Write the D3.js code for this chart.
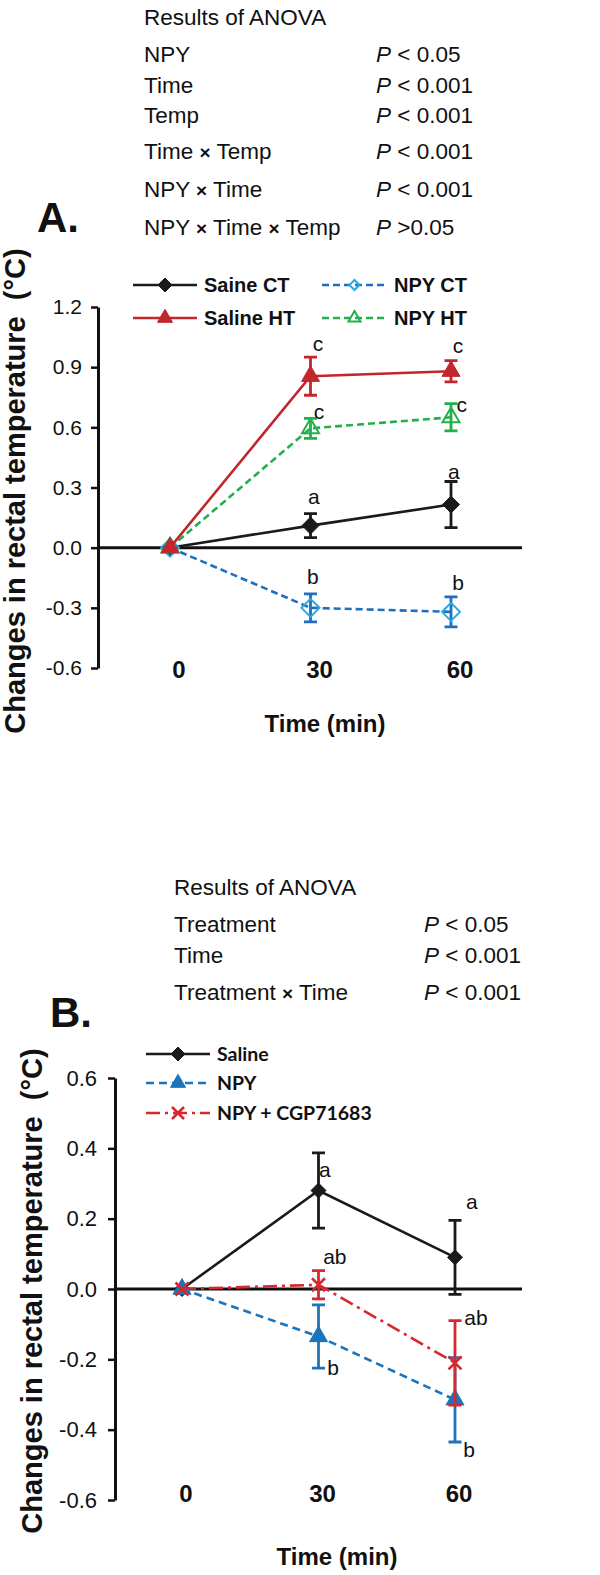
<!DOCTYPE html>
<html>
<head>
<meta charset="utf-8">
<script src="https://cdn.jsdelivr.net/npm/d3@7"></script>
<style>
  body { margin: 0; background: #fff; }
  svg { display: block; font-family: "Liberation Sans", Arial, sans-serif; }
</style>
</head>
<body>
<svg id="fig" width="600" height="1575"></svg>
<script>
// ---------- Panel A data ----------
const timesA = [0, 30, 60];
const salineCT   = [0, 0.11, 0.215];
const salineCTse = [0, 0.06, 0.115];
const salineHT   = [0, 0.855, 0.88];
const salineHTse = [0, 0.095, 0.053];
const npyHT      = [0, 0.595, 0.65];
const npyHTse    = [0, 0.05, 0.068];
const npyCT      = [0, -0.30, -0.32];
const npyCTse    = [0, 0.07, 0.075];
const ticksA = [-0.6, -0.3, 0.0, 0.3, 0.6, 0.9, 1.2];
const anovaA = [
  ["NPY", "< 0.05"],
  ["Time", "< 0.001"],
  ["Temp", "< 0.001"],
  ["Time × Temp", "< 0.001"],
  ["NPY × Time", "< 0.001"],
  ["NPY × Time × Temp", ">0.05"]
];
// significance letters (time, value in °C, letter)
const lettersA = [
  [30.7, 0.255, "a"], [60.6, 0.38, "a"],
  [31.6, 1.015, "c"], [61.5, 1.005, "c"],
  [31.8, 0.68, "c"],  [62.3, 0.715, "c"],
  [30.5, -0.145, "b"], [61.5, -0.175, "b"]
];

// ---------- Panel B data ----------
const timesB = [0, 30, 60];
const salineB   = [0, 0.28, 0.09];
const salineBse = [0, 0.107, 0.105];
const npyB      = [0, -0.135, -0.315];
const npyBse    = [0, 0.09, 0.12];
const cgpB      = [0, 0.012, -0.21];
const cgpBse    = [0, 0.04, 0.12];
const ticksB = [-0.6, -0.4, -0.2, 0.0, 0.2, 0.4, 0.6];
const anovaB = [
  ["Treatment", "< 0.05"],
  ["Time", "< 0.001"],
  ["Treatment × Time", "< 0.001"]
];
const lettersB = [
  [31.4, 0.338, "a"], [63.7, 0.247, "a"],
  [33.6, 0.091, "ab"], [64.6, -0.082, "ab"],
  [33.2, -0.225, "b"], [63.1, -0.458, "b"]
];

const svg = d3.select("#fig");

// marker shapes
function diamondPath(r) { return `M0,${-r}L${r},0L0,${r}L${-r},0Z`; }
function trianglePath(s) {
  const h = s * Math.sqrt(3) / 2;
  return `M0,${-h * 2 / 3}L${s / 2},${h / 3}L${-s / 2},${h / 3}Z`;
}
function crossPath(r) { return `M${-r},${-r}L${r},${r}M${-r},${r}L${r},${-r}`; }
function markerPath(kind, size) {
  if (kind === "diamond") return diamondPath(size);
  if (kind === "triangle") return trianglePath(size);
  return crossPath(size);
}

function drawMarker(g, st, x, y, size) {
  const p = g.append("path")
    .attr("transform", `translate(${x},${y})`)
    .attr("d", markerPath(st.marker, size));
  if (st.marker === "cross") {
    p.attr("fill", "none").attr("stroke", st.color).attr("stroke-width", 2.6);
  } else if (st.open) {
    p.attr("fill", "none").attr("stroke", st.mcolor || st.color).attr("stroke-width", 2);
  } else {
    p.attr("fill", st.color).attr("stroke", st.color).attr("stroke-width", 1);
  }
}

// ANOVA text block
function drawAnova(title, rows, xTerm, xP, titleY, rowYs) {
  const g = svg.append("g").attr("font-size", 22.5).attr("fill", "#111");
  g.append("text").attr("x", xTerm).attr("y", titleY).text(title);
  rows.forEach((r, i) => {
    const t = g.append("text").attr("x", xTerm).attr("y", rowYs[i]);
    r[0].split("×").forEach((part, j) => {
      if (j > 0) t.append("tspan").attr("font-weight", "bold").attr("font-size", 19).text("×");
      t.append("tspan").text(part);
    });
    const p = g.append("text").attr("x", xP).attr("y", rowYs[i]);
    p.append("tspan").attr("font-style", "italic").text("P");
    p.append("tspan").text(" " + r[1]);
  });
}

function drawPanel(cfg) {
  const { x, y, ticks, series, letters, axisX, xEnd } = cfg;
  const g = svg.append("g");

  // y axis
  g.append("g")
    .attr("transform", `translate(${axisX},0)`)
    .call(d3.axisLeft(y).tickValues(ticks).tickSize(7).tickSizeOuter(0)
      .tickPadding(cfg.tickPad).tickFormat(d => d.toFixed(1)))
    .call(a => a.select(".domain").attr("stroke", "#111").attr("stroke-width", 3))
    .call(a => a.selectAll(".tick line").attr("stroke", "#111").attr("stroke-width", 2.5))
    .call(a => a.selectAll(".tick text").attr("font-size", cfg.tickFont).attr("fill", "#111")
      .attr("font-family", "Liberation Sans, Arial, sans-serif"));

  // zero line (x axis)
  g.append("line")
    .attr("x1", axisX).attr("x2", xEnd)
    .attr("y1", y(0)).attr("y2", y(0))
    .attr("stroke", "#111").attr("stroke-width", 3);

  // category labels
  g.selectAll("text.cat")
    .data(cfg.times)
    .join("text")
    .attr("class", "cat")
    .attr("x", d => x(d) + cfg.catShift)
    .attr("y", cfg.catY)
    .attr("text-anchor", "middle")
    .attr("font-weight", "bold")
    .attr("font-size", 24)
    .attr("fill", "#111")
    .text(d => d);

  // axis titles
  g.append("text")
    .attr("x", cfg.xTitle[0]).attr("y", cfg.xTitle[1])
    .attr("text-anchor", "middle").attr("font-weight", "bold").attr("font-size", 24)
    .attr("fill", "#111").text("Time (min)");
  g.append("text")
    .attr("transform", `translate(${cfg.yTitle[0]},${cfg.yTitle[1]}) rotate(-90)`)
    .attr("text-anchor", "middle").attr("font-weight", "bold").attr("font-size", 29)
    .attr("fill", "#111").attr("xml:space", "preserve")
    .text("Changes in rectal temperature  (°C)");

  // series
  const line = d3.line().x(d => x(d.t)).y(d => y(d.v));
  series.forEach(s => {
    const st = s.style;
    const pts = cfg.times.map((t, i) => ({ t, v: s.values[i], se: s.se[i] }));
    const sg = g.append("g");
    sg.append("path")
      .datum(pts)
      .attr("d", line)
      .attr("fill", "none")
      .attr("stroke", st.color)
      .attr("stroke-width", 2.6)
      .attr("stroke-dasharray", st.dash);
    pts.filter(d => d.se > 0).forEach(d => {
      const cx = x(d.t), y1 = y(d.v + d.se), y2 = y(d.v - d.se);
      sg.append("path")
        .attr("d", `M${cx},${y1}V${y2}M${cx - 6.5},${y1}H${cx + 6.5}M${cx - 6.5},${y2}H${cx + 6.5}`)
        .attr("fill", "none").attr("stroke", st.err || st.color).attr("stroke-width", 2.8);
    });
    pts.forEach(d => drawMarker(sg, st, x(d.t), y(d.v), st.size));
  });

  // significance letters
  g.selectAll("text.sig")
    .data(letters)
    .join("text")
    .attr("class", "sig")
    .attr("x", d => x(d[0]))
    .attr("y", d => y(d[1]))
    .attr("dy", "0.35em")
    .attr("text-anchor", "middle")
    .attr("font-size", 21)
    .attr("fill", "#111")
    .text(d => d[2]);

  // panel label
  g.append("text")
    .attr("x", cfg.label[0]).attr("y", cfg.label[1])
    .attr("font-weight", "bold").attr("font-size", 42).attr("fill", "#111")
    .text(cfg.labelText);
}

function drawLegend(items, font, fontSize) {
  const g = svg.append("g");
  items.forEach(it => {
    const st = it.style;
    g.append("line")
      .attr("x1", it.x0).attr("x2", it.x1).attr("y1", it.y).attr("y2", it.y)
      .attr("stroke", st.color).attr("stroke-width", 2.6)
      .attr("stroke-dasharray", st.dash);
    drawMarker(g, st, (it.x0 + it.x1) / 2, it.y, it.msize);
    g.append("text")
      .attr("x", it.x1 + 7).attr("y", it.y).attr("dy", "0.36em")
      .attr("font-family", font).attr("font-weight", "bold").attr("font-size", fontSize)
      .attr("fill", "#111").text(it.name);
  });
}

// ---------- styles ----------
const styleA = {
  "Saine CT":  { color: "#1a1a1a", marker: "diamond", size: 8.5 },
  "Saline HT": { color: "#c1272d", marker: "triangle", size: 18 },
  "NPY HT":    { color: "#22b04b", marker: "triangle", size: 17, open: true, dash: "7,4" },
  "NPY CT":    { color: "#1f6fc0", mcolor: "#2aa8e0", marker: "diamond", size: 9, open: true, dash: "7,4" }
};
const styleB = {
  "Saline":         { color: "#1a1a1a", marker: "diamond", size: 7.5 },
  "NPY":            { color: "#1c74bc", marker: "triangle", size: 18, dash: "8,5" },
  "NPY + CGP71683": { color: "#d7282e", marker: "cross", size: 6.5, dash: "14,5,3,5" }
};

// ---------- Panel A ----------
drawAnova("Results of ANOVA", anovaA, 144, 376, 25, [62, 93, 123, 159, 197, 235]);
const xA = d3.scaleLinear().domain([0, 60]).range([170, 451]);
const yA = d3.scaleLinear().domain([-0.6, 1.2]).range([668, 307]);
drawPanel({
  x: xA, y: yA, ticks: ticksA, times: timesA, letters: lettersA,
  axisX: 98, xEnd: 522, tickPad: 9, tickFont: 21, catY: 678, catShift: 9,
  xTitle: [325, 732], yTitle: [25, 491], label: [37, 232], labelText: "A.",
  series: [
    { values: salineCT, se: salineCTse, style: styleA["Saine CT"] },
    { values: npyCT, se: npyCTse, style: styleA["NPY CT"] },
    { values: npyHT, se: npyHTse, style: styleA["NPY HT"] },
    { values: salineHT, se: salineHTse, style: styleA["Saline HT"] }
  ]
});
drawLegend([
  { name: "Saine CT",  style: styleA["Saine CT"],  x0: 133, x1: 197, y: 285, msize: 7 },
  { name: "Saline HT", style: styleA["Saline HT"], x0: 133, x1: 197, y: 318, msize: 15 },
  { name: "NPY CT",    style: styleA["NPY CT"],    x0: 322, x1: 387, y: 285, msize: 5 },
  { name: "NPY HT",    style: styleA["NPY HT"],    x0: 322, x1: 387, y: 318, msize: 12 }
], "Liberation Sans, Arial, sans-serif", 20);

// ---------- Panel B ----------
drawAnova("Results of ANOVA", anovaB, 174, 424, 895, [932, 963, 1000]);
const xB = d3.scaleLinear().domain([0, 60]).range([182, 455]);
const yB = d3.scaleLinear().domain([-0.6, 0.6]).range([1500, 1078]);
drawPanel({
  x: xB, y: yB, ticks: ticksB, times: timesB, letters: lettersB,
  axisX: 115, xEnd: 522, tickPad: 11, tickFont: 22, catY: 1502, catShift: 4,
  xTitle: [337, 1565], yTitle: [42, 1291], label: [50, 1027], labelText: "B.",
  series: [
    { values: salineB, se: salineBse, style: styleB["Saline"] },
    { values: npyB, se: npyBse, style: styleB["NPY"] },
    { values: cgpB, se: cgpBse, style: styleB["NPY + CGP71683"] }
  ]
});
drawLegend([
  { name: "Saline",         style: styleB["Saline"],         x0: 146, x1: 210, y: 1054, msize: 7 },
  { name: "NPY",            style: styleB["NPY"],            x0: 146, x1: 210, y: 1083, msize: 15 },
  { name: "NPY + CGP71683", style: styleB["NPY + CGP71683"], x0: 146, x1: 210, y: 1113, msize: 6 }
], "Lato, sans-serif", 19.5);
</script>
</body>
</html>
